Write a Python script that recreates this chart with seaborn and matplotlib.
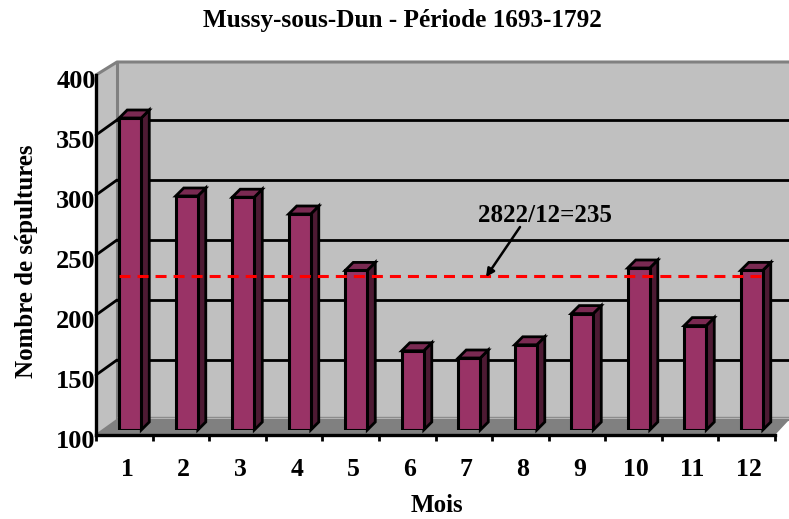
import matplotlib
matplotlib.use('Agg')
import matplotlib.pyplot as plt
from matplotlib.patches import Polygon
from matplotlib.transforms import Affine2D, IdentityTransform, offset_copy
import pandas as pd
import seaborn as sns

mois = ['1', '2', '3', '4', '5', '6', '7', '8', '9', '10', '11', '12']
sepultures = [360, 295, 294, 280, 233, 166, 160, 171, 197, 235, 187, 233]
niveaux = [100, 150, 200, 250, 300, 350, 400]
moyenne_trait = 228
moyenne_txt = "2822/12=235"

W, H = 789, 519
SERIF = ['Liberation Serif', 'DejaVu Serif']

sns.set_theme(style='white')
plt.rcParams['font.family'] = SERIF
plt.rcParams['font.weight'] = 'bold'

fig = plt.figure(figsize=(W / 100, H / 100), dpi=100, facecolor='white')
# repere en pixels de l'image (origine en haut a gauche)
px = Affine2D().scale(1, -1).translate(0, H)


def box(x0, y_top, x1, y_bot):
    return [x0 / W, 1 - y_bot / H, (x1 - x0) / W, (y_bot - y_top) / H]


'''
    Cadre : murs, sol, graduations
'''
ax = fig.add_axes(box(96, 75, 775, 435))
ax.set_xlim(0, 12)
ax.set_ylim(100, 400)
ax.patch.set_visible(False)

decor = [
    ([(117, 62), (789, 62), (789, 420), (117, 420)], '#c0c0c0'),
    ([(96, 75), (117, 62), (117, 420), (96, 435)], '#c0c0c0'),
    ([(96, 435), (117, 420), (789, 420), (775, 435)], '#808080'),
]
for pts, col in decor:
    ax.add_patch(Polygon(pts, closed=True, facecolor=col, edgecolor='none',
                         transform=px, zorder=0, clip_on=False))

ax.plot([96, 117, 789], [75, 62, 62], color='#808080', lw=2.2, transform=px, zorder=1, clip_on=False)
ax.plot([117, 117], [62, 420], color='#808080', lw=2.2, transform=px, zorder=1, clip_on=False)
ax.plot([96, 117, 789], [435, 420, 420], color='#808080', lw=1.5, transform=px, zorder=1, clip_on=False)
ax.plot([117, 789], [417, 417], color='#8c8c8c', lw=1, transform=px, zorder=1, clip_on=False)

fond = offset_copy(ax.transData, fig=fig, x=21, y=15, units='dots')
for niv in niveaux[1:-1]:
    ax.plot([0, 20], [niv, niv], color='black', lw=2, clip_on=False, zorder=2, transform=fond)
    ax.plot([0, 21 / 56.6], [niv, niv + 15 / 1.2], color='black', lw=2, clip_on=False, zorder=2)

sns.despine(ax=ax, top=True, right=True)
for cote in ['left', 'bottom']:
    ax.spines[cote].set_color('black')
    ax.spines[cote].set_linewidth(2.4)

ax.set_yticks(niveaux)
ax.set_yticklabels([str(n) for n in niveaux], fontsize=19, fontweight='bold', color='black')
ax.set_xticks(range(0, 13))
ax.set_xticklabels([])
ax.tick_params(axis='x', bottom=True, length=4, width=2, color='black')
ax.tick_params(axis='y', left=False, pad=0)
for lab in ax.get_yticklabels():
    lab.set_transform(lab.get_transform() + Affine2D().translate(8, -4))

'''
    Barres
'''
axb = fig.add_axes(box(102, 70, 780, 430))
df = pd.DataFrame({'mois': mois, 'sepultures': sepultures})
sns.barplot(data=df, x='mois', y='sepultures', order=mois, color='#993366', saturation=1,
            width=0.39, edgecolor='black', linewidth=2.2, ax=axb, zorder=3)
axb.set_xlim(-0.5, 11.5)
axb.set_ylim(100, 400)
axb.patch.set_visible(False)
axb.set_xlabel('')
axb.set_ylabel('')
axb.set_yticks([])
axb.set_xticks(range(len(mois)))
axb.set_xticklabels(mois, fontsize=18.5, fontweight='bold', color='black')
axb.tick_params(axis='x', length=0, pad=20)
for lab in axb.get_xticklabels():
    lab.set_transform(lab.get_transform() + Affine2D().translate(-3, 0))
for s in axb.spines.values():
    s.set_visible(False)

# les barres partent du bas de l'axe (100), pas de zero
for bar in axb.patches:
    haut = bar.get_height()
    bar.set_y(100)
    bar.set_height(haut - 100)

# faces laterales et dessus des barres, calees sur les barres dessinees
fig.canvas.draw()
prof = 8
for bar in list(axb.patches):
    b = bar.get_window_extent()
    cote = [(b.x1, b.y0), (b.x1 + prof, b.y0 + prof), (b.x1 + prof, b.y1 + prof), (b.x1, b.y1)]
    dessus = [(b.x0, b.y1), (b.x1, b.y1), (b.x1 + prof, b.y1 + prof), (b.x0 + prof, b.y1 + prof)]
    axb.add_patch(Polygon(cote, closed=True, facecolor='#4d1a33', edgecolor='black', lw=2,
                          transform=IdentityTransform(), zorder=2.9, clip_on=False))
    axb.add_patch(Polygon(dessus, closed=True, facecolor='#7a2a52', edgecolor='black', lw=2,
                          transform=IdentityTransform(), zorder=2.9, clip_on=False))

'''
    Moyenne
'''
axb.plot([-0.2, 11.2], [moyenne_trait, moyenne_trait], color='#ff0000', lw=2.2,
         dashes=(3.6, 2.3), zorder=5)
axb.annotate('', xy=(486, 277), xytext=(520, 227), xycoords=px, textcoords=px,
             arrowprops=dict(arrowstyle='-|>', color='black', lw=1.8, mutation_scale=12,
                             shrinkA=0, shrinkB=0), zorder=6)
fig.text(545 / W, 1 - 216 / H, moyenne_txt, ha='center', va='center', fontsize=18,
         fontweight='bold', color='black')

fig.text(402 / W, 1 - 20 / H, "Mussy-sous-Dun - Période 1693-1792", ha='center', va='center',
         fontsize=18.2, fontweight='bold', color='black')
fig.text(437 / W, 1 - 506 / H, "Mois", ha='center', va='center', fontsize=18,
         fontweight='bold', color='black')
fig.text(27 / W, 1 - 261 / H, "Nombre de sépultures", ha='center', va='center', rotation=90,
         fontsize=18, fontweight='bold', color='black')

fig.savefig('out.png', dpi=100)
